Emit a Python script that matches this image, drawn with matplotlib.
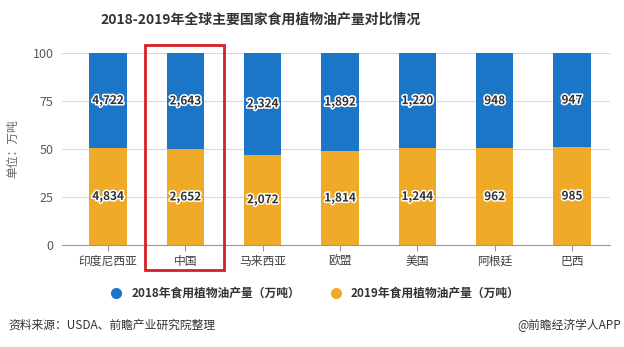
import numpy as np
import matplotlib.pyplot as plt
import matplotlib.patheffects as pe
from matplotlib.patches import Rectangle
from matplotlib.lines import Line2D

plt.rcParams['font.family'] = ['Noto Sans CJK SC', 'DejaVu Sans']

countries = ['印度尼西亚', '中国', '马来西亚', '欧盟', '美国', '阿根廷', '巴西']
prod_2018 = np.array([4722, 2643, 2324, 1892, 1220, 948, 947])
prod_2019 = np.array([4834, 2652, 2072, 1814, 1244, 962, 985])

blue = '#1b76c7'
orange = '#efab27'

total = prod_2018 + prod_2019
p19 = prod_2019 / total * 100
p18 = prod_2018 / total * 100

fig = plt.figure(figsize=(6.24, 3.47), dpi=100)
ax = fig.add_axes([0.0994, 0.294, 0.878, 0.553])

x = np.arange(len(countries))
ax.bar(x, p19, width=0.48, color=orange, zorder=2)
ax.bar(x, p18, width=0.48, bottom=p19, color=blue, zorder=2)

outline = [pe.withStroke(linewidth=2.2, foreground='white')]
for i in x:
    ax.text(i, p19[i] / 2, f'{prod_2019[i]:,}', ha='center', va='center',
            fontsize=8.5, fontweight='bold', color='#333333', path_effects=outline, zorder=3)
    ax.text(i, p19[i] + p18[i] / 2, f'{prod_2018[i]:,}', ha='center', va='center',
            fontsize=8.5, fontweight='bold', color='#333333', path_effects=outline, zorder=3)

ax.set_xlim(-0.595, 6.49)
ax.set_ylim(0, 100)
ax.set_yticks([0, 25, 50, 75, 100])
ax.yaxis.grid(True, color='#d9d9d9', linewidth=0.8, zorder=0)
ax.set_xticks(x)
ax.set_xticklabels(countries, fontsize=8.5, color='#404040')
ax.tick_params(axis='y', length=0, labelsize=9, colors='#595959', pad=6)
ax.tick_params(axis='x', length=4, color='#999999', pad=3)
for s in ['top', 'right', 'left']:
    ax.spines[s].set_visible(False)
ax.spines['bottom'].set_color('#999999')
ax.set_ylabel('单位：万吨', fontsize=8.5, color='#666666', labelpad=10)

# red highlight box around China
ax.add_patch(Rectangle((0.48, -13), 1.02, 117, fill=False, edgecolor='#d61f26',
                       linewidth=2, clip_on=False, zorder=4))

fig.text(0.418, 0.943, '2018-2019年全球主要国家食用植物油产量对比情况', ha='center', va='center',
         fontsize=10, fontweight='bold', color='#333333')

handles = [Line2D([], [], marker='o', linestyle='', markersize=7, color=blue),
           Line2D([], [], marker='o', linestyle='', markersize=7, color=orange)]
leg = fig.legend(handles, ['2018年食用植物油产量（万吨）', '2019年食用植物油产量（万吨）'],
                 loc='center', bbox_to_anchor=(0.5, 0.155), ncol=2, frameon=False,
                 fontsize=8.5, handletextpad=0.3, columnspacing=2.0)
for t in leg.get_texts():
    t.set_fontweight('bold')
    t.set_color('#333333')

fig.text(0.013, 0.063, '资料来源：USDA、前瞻产业研究院整理', ha='left', va='center',
         fontsize=8.5, color='#333333')
fig.text(0.995, 0.063, '@前瞻经济学人APP', ha='right', va='center',
         fontsize=8.5, color='#333333')

fig.savefig('out.png', dpi=100)
